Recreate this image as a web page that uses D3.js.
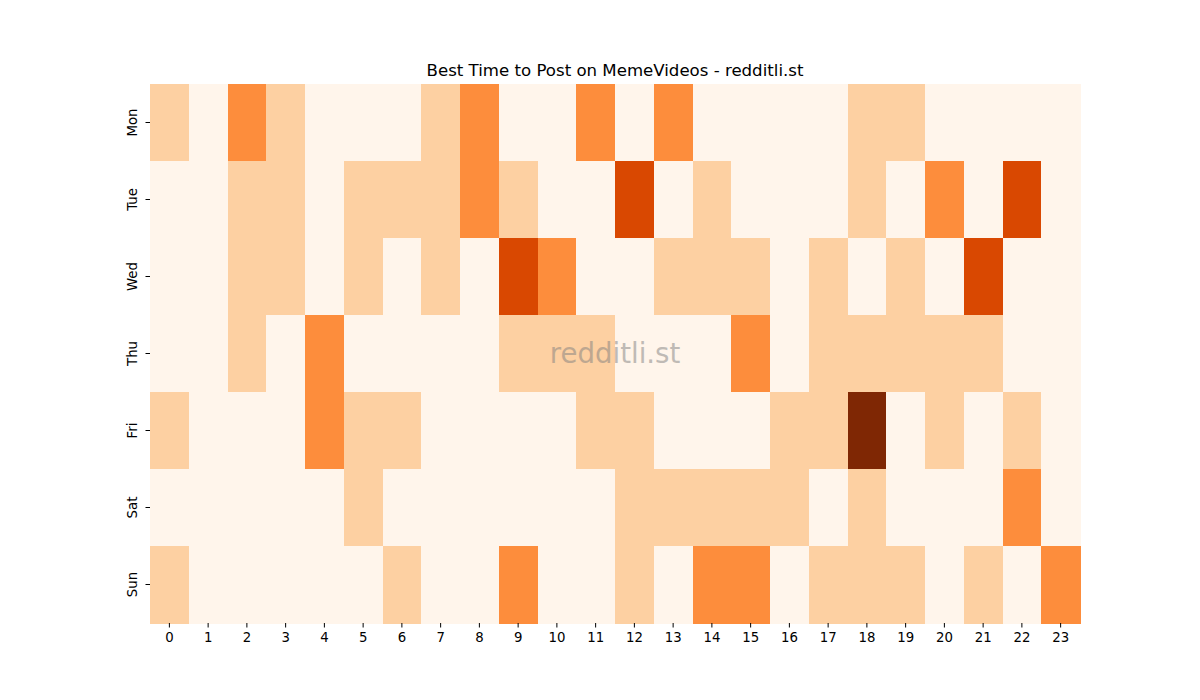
<!DOCTYPE html>
<html>
<head>
<meta charset="utf-8">
<script src="https://cdn.jsdelivr.net/npm/d3@7"></script>
<style>
  body { margin: 0; background: #fff; }
  text { font-family: "DejaVu Sans", sans-serif; }
</style>
</head>
<body>
<div id="chart"></div>
<script>
var w = 1200;
var h = 700;

var days = ['Mon', 'Tue', 'Wed', 'Thu', 'Fri', 'Sat', 'Sun'];
var hours = d3.range(24);
// one row per day, one value per hour (0..4)
var monVals = [1,0,2,1,0,0,0,1,2,0,0,2,0,2,0,0,0,0,1,1,0,0,0,0];
var tueVals = [0,0,1,1,0,1,1,1,2,1,0,0,3,0,1,0,0,0,1,0,2,0,3,0];
var wedVals = [0,0,1,1,0,1,0,1,0,3,2,0,0,1,1,1,0,1,0,1,0,3,0,0];
var thuVals = [0,0,1,0,2,0,0,0,0,1,1,1,0,0,0,2,0,1,1,1,1,1,0,0];
var friVals = [1,0,0,0,2,1,1,0,0,0,0,1,1,0,0,0,1,1,4,0,1,0,1,0];
var satVals = [0,0,0,0,0,1,0,0,0,0,0,0,1,1,1,1,1,0,1,0,0,0,2,0];
var sunVals = [1,0,0,0,0,0,1,0,0,2,0,0,1,0,2,2,0,1,1,1,0,1,0,2];
var rows = [monVals, tueVals, wedVals, thuVals, friVals, satVals, sunVals];

var cells = [];
rows.forEach(function(r, i) {
  r.forEach(function(v, j) {
    cells.push({day: days[i], hour: hours[j], value: v});
  });
});

var margin = {top: 84, right: 120, bottom: 77, left: 150};
var innerW = w - margin.left - margin.right,
  innerH = h - margin.top - margin.bottom;

var x = d3.scaleBand()
  .domain(hours)
  .range([0, innerW]);
var y = d3.scaleBand()
  .domain(days)
  .range([0, innerH]);

// matplotlib Oranges at 0, .25, .5, .75, 1
var color = d3.scaleLinear()
  .domain([0, 1, 2, 3, 4])
  .range(['#fff5eb', '#fdd0a2', '#fd8d3c', '#d94801', '#7f2704']);

var svg = d3.select('#chart')
  .append('svg')
    .attr('width', w)
    .attr('height', h);

var g = svg.append('g')
  .attr('transform', 'translate(' + [margin.left, margin.top] + ')');

g.selectAll('.cell')
  .data(cells)
  .enter().append('rect')
    .attr('class', 'cell')
    .attr('x', function(d) { return x(d.hour); })
    .attr('y', function(d) { return y(d.day); })
    .attr('width', x.bandwidth() + 0.5)
    .attr('height', y.bandwidth() + 0.5)
    .attr('shape-rendering', 'crispEdges')
    .style('fill', function(d) { return color(d.value); });

var xAxis = d3.axisBottom(x)
  .tickSize(4.5)
  .tickPadding(5);
var yAxis = d3.axisLeft(y)
  .tickSize(4.5)
  .tickPadding(5);

var xAxisG = g.append('g')
  .attr('transform', 'translate(' + [0, innerH] + ')')
  .call(xAxis);
var yAxisG = g.append('g')
  .call(yAxis);

[xAxisG, yAxisG].forEach(function(a) {
  a.select('.domain').remove();
  a.selectAll('.tick line').attr('stroke', '#000').attr('stroke-width', 1);
  a.selectAll('.tick text')
    .attr('fill', '#000')
    .style('font-family', '"DejaVu Sans", sans-serif')
    .style('font-size', '13.3px');
});

yAxisG.selectAll('.tick text')
  .attr('x', null)
  .attr('dy', null)
  .attr('text-anchor', 'middle')
  .attr('transform', 'translate(-13,0) rotate(-90)');

// title
svg.append('text')
  .attr('x', margin.left + innerW / 2)
  .attr('y', margin.top - 8)
  .attr('text-anchor', 'middle')
  .style('font-size', '16.6px')
  .style('fill', '#000')
  .text('Best Time to Post on MemeVideos - redditli.st');

// watermark
svg.append('text')
  .attr('x', margin.left + innerW / 2)
  .attr('y', margin.top + innerH / 2)
  .attr('dy', '0.35em')
  .attr('text-anchor', 'middle')
  .style('font-size', '27.6px')
  .style('fill', 'gray')
  .style('opacity', 0.5)
  .text('redditli.st');
</script>
</body>
</html>
